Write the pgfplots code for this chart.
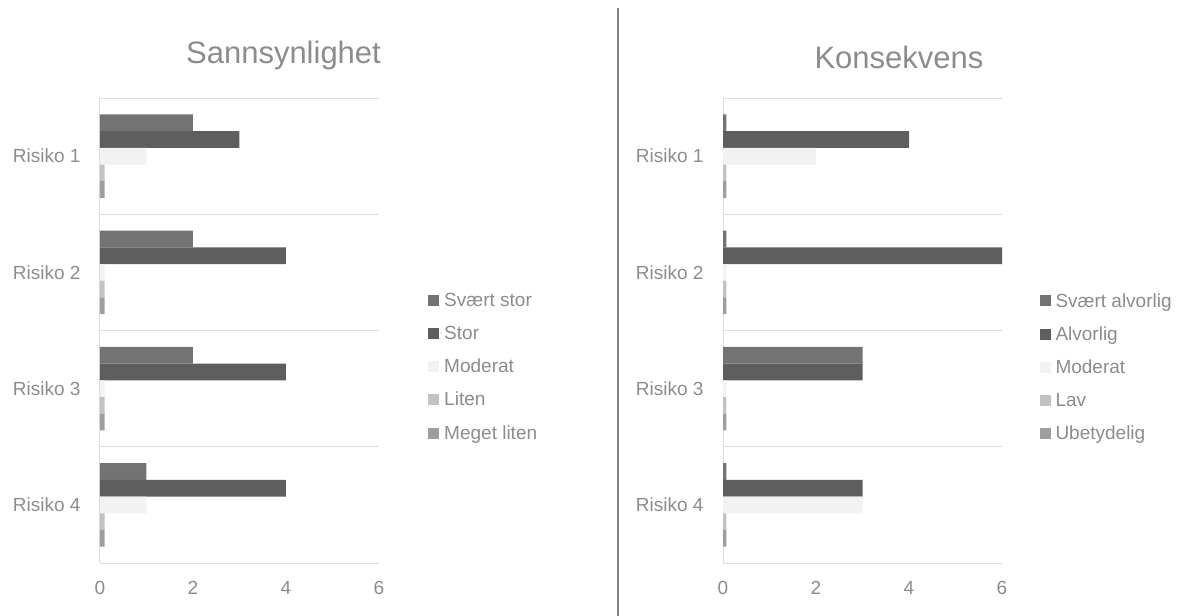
\documentclass[border=0pt]{standalone}
\usepackage{pgfplots}
\pgfplotsset{compat=1.18}
\usepackage{fontspec}
\setmainfont{Liberation Sans}
\definecolor{c1}{HTML}{737373}
\definecolor{c2}{HTML}{5E5E5E}
\definecolor{c3}{HTML}{F2F2F2}
\definecolor{c4}{HTML}{C2C2C2}
\definecolor{c5}{HTML}{9E9E9E}
\definecolor{txt}{HTML}{8C8C8C}
\definecolor{grd}{HTML}{DDDDDD}
\pgfplotsset{riskstyle/.style={
  scale only axis, width=279pt, height=465pt,
  xbar, bar width=0.144,
  xmin=0, xmax=6, xtick={0,2,4,6},
  ymin=0.5, ymax=4.5, y dir=reverse,
  ytick={1,2,3,4}, yticklabels={Risiko 1,Risiko 2,Risiko 3,Risiko 4},
  minor ytick={0.5,1.5,2.5,3.5,4.5}, yminorgrids,
  minor grid style={grd, line width=1pt},
  extra x ticks={0}, extra x tick labels={},
  extra x tick style={grid=major, major grid style={grd, line width=1pt}},
  axis line style={draw=none}, major tick length=0pt, minor tick length=0pt,
  tick label style={font=\fontsize{19}{21}\selectfont, text=txt},
  xticklabel style={yshift=-15pt},
  yticklabel style={xshift=-16pt},
  /pgf/number format/assume math mode=true,
  legend style={draw=none, fill=none, font=\fontsize{19}{21}\selectfont, text=txt,
    anchor=north west, row sep=14pt, legend cell align=left},
  legend image code/.code={\fill[##1] (0pt,-5.5pt) rectangle (11pt,5.5pt); \path (0pt,0pt) -- (14pt,0pt);},
}}
\begin{document}
\begin{tikzpicture}
\path[use as bounding box] (0pt,0pt) rectangle (1184pt,-616pt);
\begin{axis}[riskstyle, at={(100pt,-563pt)}, anchor=south west,
  legend style={at={(1.165,0.589)}}]
\addplot[fill=c1, draw=none, bar shift=-0.288] coordinates {(2,1) (2,2) (2,3) (1,4)};
\addplot[fill=c2, draw=none, bar shift=-0.144] coordinates {(3,1) (4,2) (4,3) (4,4)};
\addplot[fill=c3, draw=none, bar shift=0] coordinates {(1,1) (0.1,2) (0.1,3) (1,4)};
\addplot[fill=c4, draw=none, bar shift=0.144] coordinates {(0.1,1) (0.1,2) (0.1,3) (0.1,4)};
\addplot[fill=c5, draw=none, bar shift=0.288] coordinates {(0.1,1) (0.1,2) (0.1,3) (0.1,4)};
\legend{Svært stor,Stor,Moderat,Liten,Meget liten}
\end{axis}
\begin{axis}[riskstyle, at={(723pt,-563pt)}, anchor=south west,
  legend style={at={(1.123,0.589)}}]
\addplot[fill=c1, draw=none, bar shift=-0.288] coordinates {(0.07,1) (0.07,2) (3,3) (0.07,4)};
\addplot[fill=c2, draw=none, bar shift=-0.144] coordinates {(4,1) (6,2) (3,3) (3,4)};
\addplot[fill=c3, draw=none, bar shift=0] coordinates {(2,1) (0.07,2) (0.07,3) (3,4)};
\addplot[fill=c4, draw=none, bar shift=0.144] coordinates {(0.07,1) (0.07,2) (0.07,3) (0.07,4)};
\addplot[fill=c5, draw=none, bar shift=0.288] coordinates {(0.07,1) (0.07,2) (0.07,3) (0.07,4)};
\legend{Svært alvorlig,Alvorlig,Moderat,Lav,Ubetydelig}
\end{axis}
\node[anchor=base, text=txt, font=\fontsize{31}{35}\selectfont] at (283.5pt,-63pt) {Sannsynlighet};
\node[anchor=base, text=txt, font=\fontsize{31}{35}\selectfont] at (899pt,-68pt) {Konsekvens};
\draw[color=gray, line width=1.5pt] (618pt,-8pt) -- (618pt,-616pt);
\end{tikzpicture}
\end{document}
